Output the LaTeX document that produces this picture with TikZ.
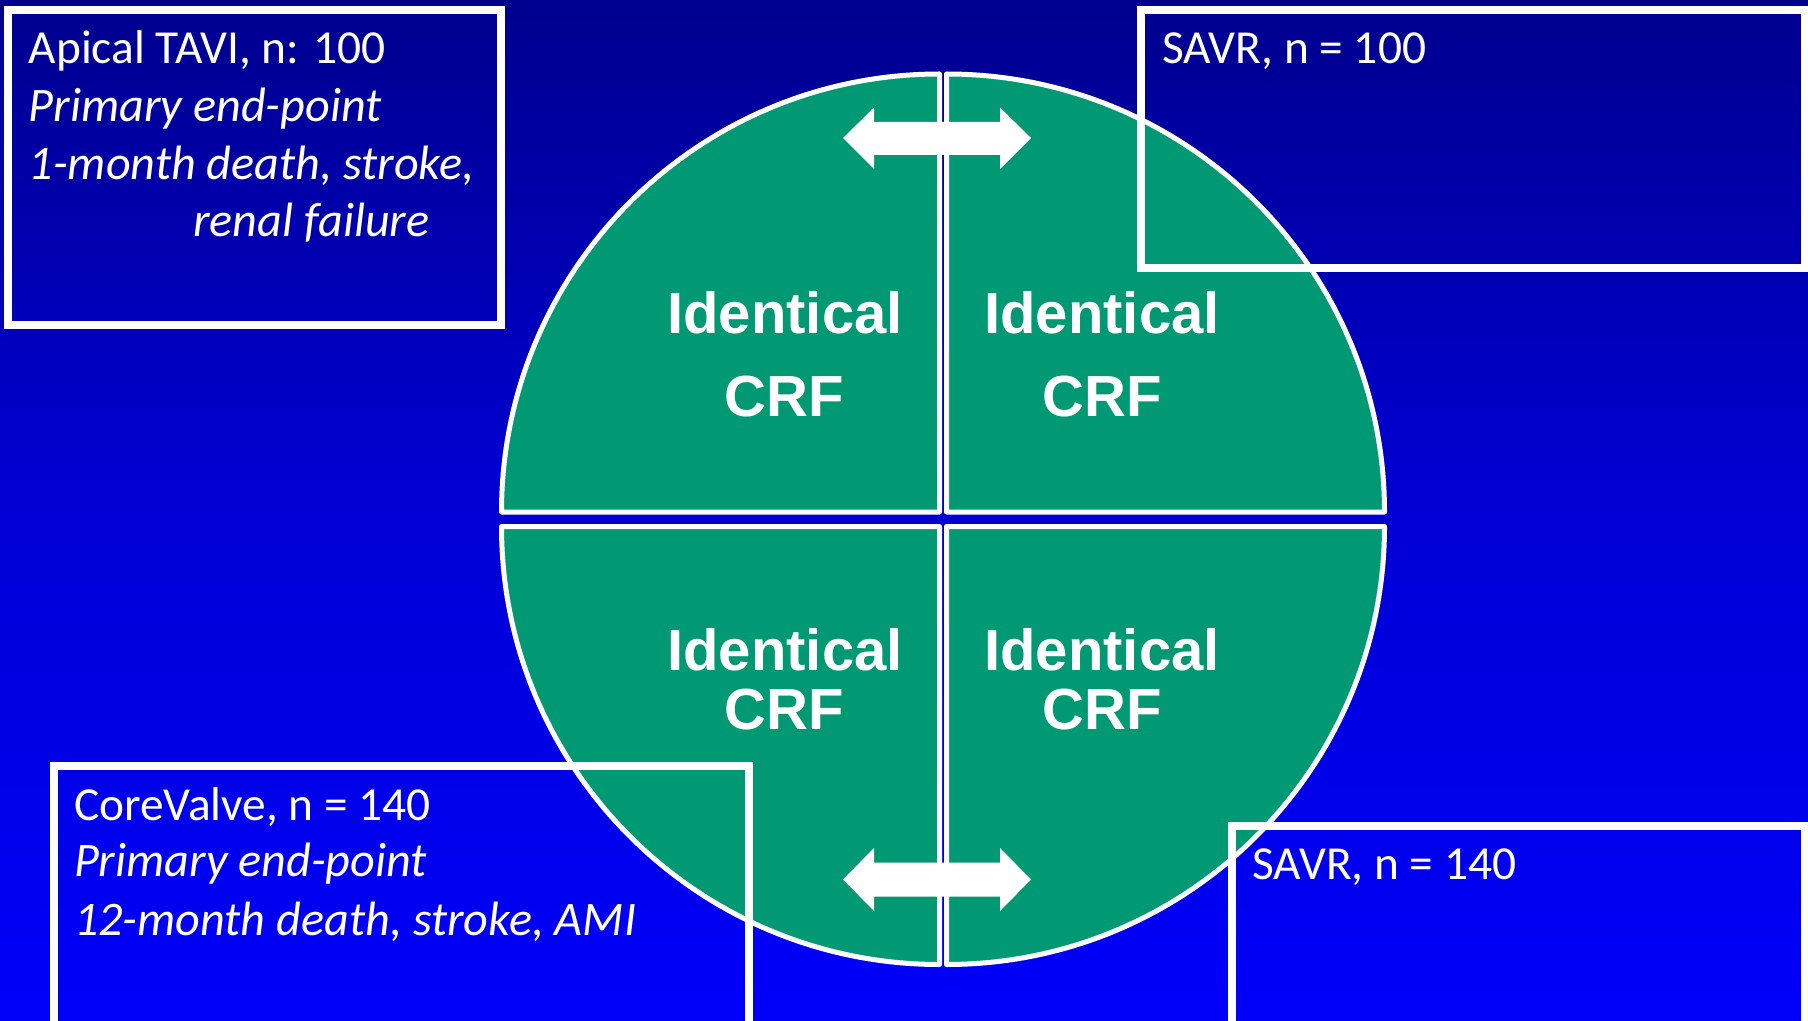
\documentclass[tikz,border=0pt]{standalone}
\usepackage{fontspec}
\setmainfont{Carlito}
\newfontfamily\crffont{Liberation Sans}
\definecolor{bgtop}{RGB}{0,0,142}
\definecolor{bgmid}{RGB}{0,0,212}
\definecolor{bgbot}{RGB}{0,0,250}
\definecolor{crfgreen}{RGB}{0,153,115}
\begin{document}
\begin{tikzpicture}[x=0.5pt,y=-0.5pt,
  quad/.style={fill=crfgreen, draw=white, line width=2.5pt, line join=round},
  boxframe/.style={draw=white, line width=4pt},
  blockarrow/.style={fill=white},
  boxtext/.style={text=white, inner sep=0pt, anchor=base west, font=\fontsize{23.7}{28}\selectfont},
  boxital/.style={boxtext, font=\fontsize{24.1}{28}\selectfont\itshape},
  crftext/.style={text=white, inner sep=0pt, anchor=base, font=\crffont\bfseries\fontsize{29}{34}\selectfont}]
\path[use as bounding box, shading=axis, top color=bgtop, bottom color=bgbot, middle color=bgmid] (0,0) rectangle (1808,1021);
% quadrants
\path[quad] (939.5,512) -- (501.5,512) arc[start angle=180, end angle=90, radius=219pt] -- cycle;
\path[quad] (946.5,512) -- (946.5,74) arc[start angle=90, end angle=0, radius=219pt] -- cycle;
\path[quad] (939.5,526.5) -- (501.5,526.5) arc[start angle=180, end angle=270, radius=219pt] -- cycle;
\path[quad] (946.5,526.5) -- (1384.5,526.5) arc[start angle=0, end angle=-90, radius=219pt] -- cycle;
% arrows
\path[blockarrow] (843,138) -- (874,107.5) -- (874,122) -- (1000,122) -- (1000,107.5) -- (1031,138) -- (1000,169) -- (1000,155) -- (874,155) -- (874,169) -- cycle;
\path[blockarrow] (843,879.5) -- (874,848) -- (874,862.5) -- (1000,862.5) -- (1000,848) -- (1031,879.5) -- (1000,911) -- (1000,896.5) -- (874,896.5) -- (874,911) -- cycle;
% CRF texts
\node[crftext] (q1a) at (785,333.3) {Identical};
\node[crftext] (q1b) at (784,416.7) {CRF};
\node[crftext] (q2a) at (1102,333.3) {Identical};
\node[crftext] (q2b) at (1102,416.7) {CRF};
\node[crftext] (q3a) at (785,670) {Identical};
\node[crftext] (q3b) at (784,729) {CRF};
\node[crftext] (q4a) at (1102,670) {Identical};
\node[crftext] (q4b) at (1102,729) {CRF};
% boxes
\draw[boxframe] (7.5,10) rectangle (500.5,325.5);
\draw[boxframe] (1141,10) rectangle (1805,268);
\draw[boxframe] (53.5,766) rectangle (748.5,1045);
\draw[boxframe] (1232,825.5) rectangle (1805,1045);
% box texts
\node[boxtext] (tl1) at (28.3,63.3) {Apical TAVI, n: 100};
\node[boxital] (tl2) at (28.3,121.7) {Primary end-point};
\node[boxital] (tl3) at (28.3,180) {1-month death, stroke,};
\node[boxital] (tl4) at (192.7,236.7) {renal failure};
\node[boxtext] (tr1) at (1161.7,63.3) {SAVR, n = 100};
\node[boxtext] (bl1) at (73.6,820) {CoreValve, n = 140};
\node[boxital] (bl2) at (73.6,876.7) {Primary end-point};
\node[boxital] (bl3) at (73.6,935) {12-month death, stroke, AMI};
\node[boxtext] (br1) at (1252,879.3) {SAVR, n = 140};
\end{tikzpicture}
\end{document}
